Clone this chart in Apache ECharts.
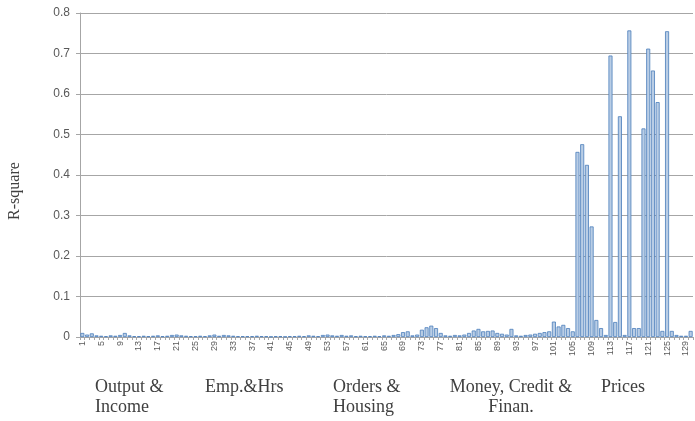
<!DOCTYPE html>
<html>
<head>
<meta charset="utf-8">
<script src="https://cdn.jsdelivr.net/npm/echarts@6/dist/echarts.min.js"></script>
<style>
  html, body { margin: 0; padding: 0; background: #fff; }
  #main { width: 695px; height: 421px; }
</style>
</head>
<body>
<div id="main"></div>
<script>
// series index 1..130
const categories = [];
for (let i = 1; i <= 130; i++) categories.push(String(i));

// R-square values
const rsquare = [
  0.010, 0.006, 0.009, 0.004, 0.003, 0.002, 0.004, 0.003, 0.005, 0.010,
  0.004, 0.002, 0.002, 0.003, 0.002, 0.003, 0.004, 0.002, 0.003, 0.005,
  0.006, 0.004, 0.003, 0.002, 0.002, 0.003, 0.002, 0.004, 0.006, 0.003,
  0.005, 0.004, 0.003, 0.002, 0.002, 0.002, 0.002, 0.003, 0.002, 0.002,
  0.001, 0.002, 0.002, 0.001, 0.002, 0.002, 0.003, 0.002, 0.004, 0.003,
  0.002, 0.005, 0.006, 0.004, 0.003, 0.005, 0.003, 0.004, 0.002, 0.003,
  0.002, 0.002, 0.003, 0.002, 0.004, 0.003, 0.005, 0.007, 0.012, 0.014,
  0.004, 0.006, 0.018, 0.024, 0.028, 0.022, 0.010, 0.004, 0.003, 0.005,
  0.004, 0.006, 0.010, 0.016, 0.020, 0.014, 0.015, 0.016, 0.010, 0.008,
  0.006, 0.020, 0.004, 0.003, 0.005, 0.006, 0.008, 0.010, 0.012, 0.014,
  0.038, 0.026, 0.030, 0.022, 0.014, 0.457, 0.476, 0.425, 0.273, 0.042,
  0.022, 0.005, 0.695, 0.037, 0.545, 0.005, 0.757, 0.022, 0.022, 0.515,
  0.712, 0.658, 0.580, 0.015, 0.755, 0.015, 0.005, 0.003, 0.003, 0.015
];

// group captions under the axis
const groupLabels = ['Output &\nIncome', 'Emp.&Hrs', 'Orders &\nHousing', 'Money, Credit &\nFinan.', 'Prices'];
const groupX = [95, 205, 333, 511, 601];
const groupAlign = ['left', 'left', 'left', 'center', 'left'];

const yTicks = [0, 0.1, 0.2, 0.3, 0.4, 0.5, 0.6, 0.7, 0.8];

const chart = echarts.init(document.getElementById('main'));

const option = {
  animation: false,
  grid: { left: 80, right: 2, top: 13, bottom: 84 },
  xAxis: {
    type: 'category',
    data: categories,
    axisLine: { lineStyle: { color: '#a6a6a6' } },
    axisTick: { show: true, interval: 0, length: 3, lineStyle: { color: '#a6a6a6' } },
    axisLabel: {
      interval: 3,
      rotate: 90,
      fontSize: 9,
      color: '#595959',
      fontFamily: 'Liberation Sans',
      margin: 4
    }
  },
  yAxis: {
    type: 'value',
    min: yTicks[0],
    max: yTicks[yTicks.length - 1],
    interval: 0.1,
    axisLine: { show: true, lineStyle: { color: '#a6a6a6' } },
    axisTick: { show: true, length: 4, lineStyle: { color: '#a6a6a6' } },
    axisLabel: {
      fontSize: 12,
      color: '#595959',
      fontFamily: 'Liberation Sans',
      margin: 10,
      formatter: v => (Math.round(v * 10) / 10).toString()
    },
    splitLine: { lineStyle: { color: '#a6a6a6', width: 1 } }
  },
  series: [{
    type: 'bar',
    data: rsquare,
    barCategoryGap: '15%',
    itemStyle: {
      color: '#b9cde5',
      borderColor: '#4a7ebb',
      borderWidth: 0.8
    }
  }],
  graphic: [
    {
      type: 'text',
      x: 15, y: 191,
      rotation: Math.PI / 2,
      style: {
        text: 'R-square',
        font: '16px "Liberation Serif"',
        fill: '#404040',
        align: 'center',
        verticalAlign: 'middle'
      }
    }
  ].concat(groupLabels.map((t, i) => ({
    type: 'text',
    x: groupX[i], y: 377,
    style: {
      text: t,
      font: '18px "Liberation Serif"',
      lineHeight: 20,
      fill: '#404040',
      align: groupAlign[i],
      verticalAlign: 'top'
    }
  })))
};

chart.setOption(option);
</script>
</body>
</html>
